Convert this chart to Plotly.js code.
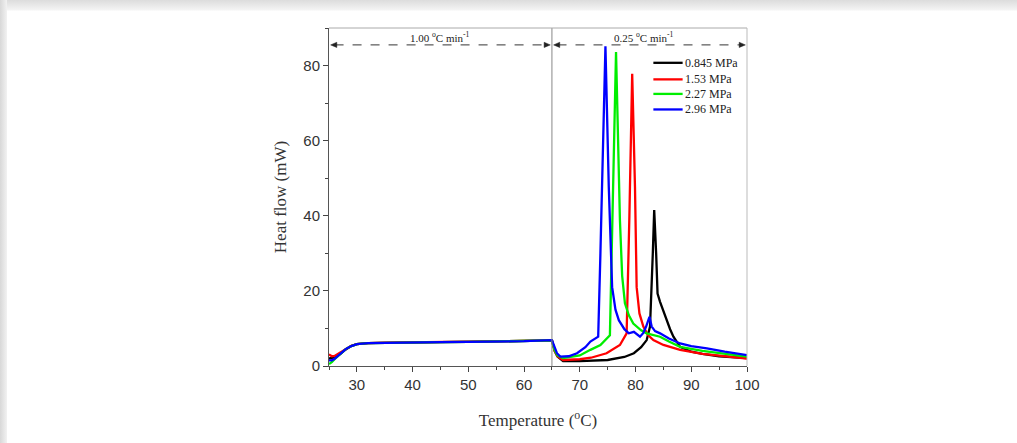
<!DOCTYPE html>
<html><head><meta charset="utf-8">
<script src="https://cdn.plot.ly/plotly-3.0.1.min.js"></script>
<style>
html,body{margin:0;padding:0;background:#ffffff;}
#wrap{position:absolute;left:0;top:0;width:1017px;height:443px;background:linear-gradient(#dcdcdc,#f4f4f4 10px,#fff 11px);}
#lft{position:absolute;left:0;top:0;width:7px;height:443px;background:linear-gradient(90deg,#d8d8d8,#f2f2f2);}
#chart{position:absolute;left:0;top:0;width:1017px;height:443px;}
</style></head><body>
<div id="wrap"></div><div id="lft"></div>
<div id="chart"></div>
<script>
const names = ["0.845 MPa","1.53 MPa","2.27 MPa","2.96 MPa"];
const colors = ["#000000","#ff0000","#00ee00","#0000ff"];

const tBlack = [25,25.5,26,27,28,29,30,32,35,40,45,50,55,60,65,65.5,66,67,70,75,78,79.7,81,82,82.6,83.1,83.35,83.7,83.95,84.4,85,85.6,86.2,86.8,88,90,92,95,100];
const hBlack = [2.0,2.0,2.2,3.2,4.4,5.3,5.8,6.1,6.2,6.3,6.35,6.4,6.5,6.6,6.8,4.0,2.5,1.3,1.3,1.6,2.4,3.4,5.0,6.9,10.5,30,41.5,30,19.3,17.1,14.5,12.2,9.8,7.8,5.1,3.8,3.2,2.6,2.1];

const tRed = [25,25.5,26,27,28,29,30,32,35,40,45,50,55,60,65,65.5,66,67,70,72,74.8,77.2,78.4,78.9,79.4,79.9,80.2,80.7,81.4,82.2,83.2,85,88,92,96,100];
const hRed = [3.1,2.6,2.7,3.6,4.6,5.4,5.8,6.1,6.2,6.3,6.35,6.4,6.5,6.6,6.8,4.0,2.6,1.6,1.8,2.2,3.4,5.6,8.7,40,77.8,47.7,21,14,10.5,8.3,6.9,5.6,4.3,3.2,2.5,2.0];

const tGreen = [25,25.5,26,27,28,29,30,32,35,40,45,50,55,60,65,65.5,66,67,70,71.9,73.7,75.4,75.7,76.5,77.2,77.6,78.1,78.8,79.6,81,82,84.4,86,88,92,96,100];
const hGreen = [0.5,1.0,1.8,3.2,4.5,5.3,5.8,6.1,6.2,6.3,6.35,6.4,6.5,6.6,6.8,4.2,2.8,2.1,2.8,4.3,5.6,8.2,30,83.6,38.8,24,16.7,13.5,11.3,9.5,8.7,7.8,6.5,5.1,4.0,3.2,2.5];

const tBlue = [25,25.5,26,27,28,29,30,32,35,40,45,50,55,60,65,65.5,65.9,66.5,68,69.5,71,71.9,72.8,73.3,73.7,74.6,75.2,75.8,76.4,77.0,78.0,78.8,79.7,80.3,80.8,81.4,81.9,82.5,82.9,83.5,84.4,86,88,90,92.8,96,100];
const hBlue = [1.5,1.5,1.9,3.2,4.5,5.3,5.8,6.1,6.2,6.3,6.35,6.4,6.5,6.6,6.9,5.0,3.4,2.5,2.6,3.4,5.0,6.5,7.2,7.8,30,85.1,47.7,21,15,12.2,9.8,8.7,9.1,8.4,7.8,8.8,10.5,13.1,10.5,9.3,8.7,7.3,6.0,5.3,4.7,3.8,2.9];

const temps = [tBlack,tRed,tGreen,tBlue];
const flows = [hBlack,hRed,hGreen,hBlue];

const xTicks = [30,40,50,60,70,80,90,100];
const yTicks = [0,20,40,60,80];
const rate1 = "1.00 <sup>o</sup>C min<sup>-1</sup>";
const rate2 = "0.25 <sup>o</sup>C min<sup>-1</sup>";

const traces = names.map((n,i)=>({
  x: temps[i], y: flows[i], name: n, type:'scatter', mode:'lines', showlegend:false,
  line:{color:colors[i], width:2.3}
}));

const serif = "Liberation Serif, Times New Roman, serif";
const sans = "Liberation Sans, Arial, sans-serif";

// hand-built legend (tighter row spacing than Plotly's legend allows)
const legY = [0.897,0.848,0.805,0.759];
const legShapes = names.map((n,i)=>({type:'line', xref:'paper', yref:'paper', x0:0.776, x1:0.846, y0:legY[i], y1:legY[i], line:{color:colors[i], width:2.3}}));
const legText = names.map((n,i)=>({x:0.848, y:legY[i], xref:'paper', yref:'paper', xanchor:'left', yanchor:'middle', showarrow:false, text:n, font:{family:serif, size:12, color:'#222'}}));

// arrowheads for the dashed rate markers (data coords)
function head(x, y, dir){ const L=1.1*dir, h=0.7; return {type:'path', xref:'x', yref:'y', path:`M ${x},${y} L ${x+L},${y+h} L ${x+L},${y-h} Z`, fillcolor:'#222', line:{color:'#222', width:0.5}}; }
const yr = 85.5;

const layout = {
  width:1017, height:443,
  margin:{l:329, r:270, t:28, b:77},
  paper_bgcolor:'rgba(0,0,0,0)', plot_bgcolor:'rgba(0,0,0,0)',
  showlegend:false,
  xaxis:{range:[25,100], tickvals:xTicks, ticks:'outside', ticklen:5, tickcolor:'#444',
    showgrid:false, zeroline:false, showline:true, linecolor:'#555', linewidth:1,
    tickfont:{family:sans, size:15, color:'#333'},
    minor:{dtick:5, ticks:'outside', ticklen:3, tickcolor:'#444', showgrid:false},
    title:{text:"Temperature (<sup>o</sup>C)", font:{family:serif, size:17, color:'#333'}, standoff:22}},
  yaxis:{range:[0,90], tickvals:yTicks, ticks:'outside', ticklen:5, tickcolor:'#444',
    showgrid:false, zeroline:false, showline:true, linecolor:'#555', linewidth:1,
    tickfont:{family:sans, size:15, color:'#333'},
    minor:{dtick:10, ticks:'outside', ticklen:3, tickcolor:'#444', showgrid:false},
    title:{text:"Heat flow (mW)", font:{family:serif, size:17, color:'#333'}, standoff:12}},
  shapes:[
    {type:'line', xref:'x', yref:'paper', x0:65, x1:65, y0:0, y1:1, line:{color:'#888', width:1}},
    {type:'line', xref:'paper', yref:'paper', x0:0, x1:1, y0:1, y1:1, line:{color:'#aaa', width:1}},
    {type:'line', xref:'paper', yref:'paper', x0:1, x1:1, y0:0, y1:1, line:{color:'#bbb', width:1}},
    {type:'line', xref:'x', yref:'y', x0:26, x1:64, y0:yr, y1:yr, line:{color:'#333', width:1, dash:'dash'}},
    {type:'line', xref:'x', yref:'y', x0:66, x1:99, y0:yr, y1:yr, line:{color:'#333', width:1, dash:'dash'}},
    head(25.3, yr, 1), head(64.7, yr, -1), head(65.3, yr, 1), head(99.7, yr, -1)
  ].concat(legShapes),
  annotations:[
    {x:45, y:1.0, xref:'x', yref:'paper', yanchor:'top', showarrow:false, text:rate1, font:{family:serif, size:11, color:'#222'}},
    {x:81.5, y:1.0, xref:'x', yref:'paper', yanchor:'top', showarrow:false, text:rate2, font:{family:serif, size:11, color:'#222'}}
  ].concat(legText)
};

Plotly.newPlot('chart', traces, layout, {displayModeBar:false, staticPlot:true});
</script>
</body></html>
